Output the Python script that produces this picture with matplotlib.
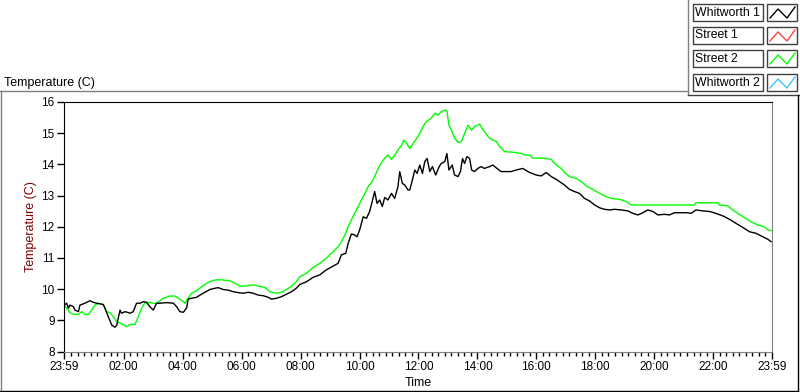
import numpy as np
import matplotlib
matplotlib.use("Agg")
import matplotlib.pyplot as plt
from matplotlib.lines import Line2D
from matplotlib.patches import Rectangle

plt.rcParams['font.family'] = ['Liberation Sans', 'DejaVu Sans']

# Whitworth 1 (black) - hours after 23:59, temperature (C)
hours_w1 = [0.00, 0.08, 0.14, 0.19, 0.31, 0.36, 0.48, 0.53, 0.70, 0.87, 0.98, 1.10, 1.32, 1.38,
            1.49, 1.61, 1.72, 1.78, 1.89, 1.94, 2.06, 2.23, 2.34, 2.45, 2.57, 2.68, 2.79, 2.90,
            3.02, 3.13, 3.24, 3.47, 3.70, 3.81, 3.92, 4.04, 4.15, 4.20, 4.32, 4.49, 4.60, 4.77,
            4.94, 5.11, 5.22, 5.39, 5.56, 5.73, 5.90, 6.06, 6.24, 6.41, 6.58, 6.75, 6.92, 7.03,
            7.20, 7.37, 7.54, 7.71, 7.87, 7.99, 8.22, 8.44, 8.67, 8.89, 9.12, 9.29, 9.40, 9.55,
            9.63, 9.74, 9.85, 9.93, 10.02, 10.14, 10.25, 10.36, 10.47, 10.53, 10.61, 10.70, 10.79,
            10.87, 10.98, 11.10, 11.21, 11.32, 11.38, 11.47, 11.55, 11.66, 11.72, 11.81, 11.89,
            11.97, 12.06, 12.15, 12.23, 12.31, 12.40, 12.49, 12.60, 12.72, 12.79, 12.91, 12.98,
            13.05, 13.16, 13.24, 13.36, 13.44, 13.51, 13.58, 13.66, 13.75, 13.82, 13.92, 14.03,
            14.14, 14.25, 14.43, 14.54, 14.68, 14.82, 14.99, 15.16, 15.33, 15.56, 15.73, 15.79,
            16.01, 16.18, 16.35, 16.52, 16.69, 16.80, 16.97, 17.14, 17.31, 17.48, 17.65, 17.82,
            17.99, 18.16, 18.33, 18.50, 18.67, 18.90, 19.12, 19.29, 19.46, 19.63, 19.80, 19.97,
            20.14, 20.36, 20.53, 20.70, 20.93, 21.15, 21.27, 21.43, 21.66, 21.89, 22.11, 22.34,
            22.57, 22.79, 23.02, 23.25, 23.47, 23.70, 23.87, 23.98]
temp_w1 = [9.49, 9.55, 9.39, 9.49, 9.44, 9.33, 9.28, 9.49, 9.55, 9.63, 9.58, 9.55, 9.51, 9.39,
           9.12, 8.85, 8.78, 8.85, 9.33, 9.23, 9.28, 9.23, 9.28, 9.55, 9.55, 9.60, 9.58, 9.44,
           9.33, 9.55, 9.55, 9.57, 9.55, 9.44, 9.28, 9.26, 9.40, 9.68, 9.71, 9.74, 9.81, 9.90,
           9.99, 10.03, 10.05, 9.99, 9.97, 9.92, 9.89, 9.87, 9.90, 9.87, 9.81, 9.79, 9.74, 9.68,
           9.71, 9.76, 9.84, 9.92, 10.03, 10.15, 10.24, 10.38, 10.46, 10.62, 10.74, 10.83, 11.10, 11.15,
           11.47, 11.77, 11.74, 11.68, 11.90, 12.32, 12.27, 12.49, 12.91, 13.13, 12.75, 12.86, 12.65,
           12.94, 12.86, 13.07, 12.91, 13.29, 13.77, 13.39, 13.34, 13.18, 13.18, 13.50, 13.82,
           13.71, 13.98, 13.71, 14.09, 14.19, 13.77, 13.93, 13.66, 13.93, 14.03, 14.09, 14.35,
           13.82, 13.98, 13.66, 13.61, 13.77, 14.19, 14.03, 14.25, 14.19, 13.82, 13.77, 13.87,
           13.93, 13.87, 13.93, 13.98, 13.87, 13.77, 13.77, 13.77, 13.82, 13.87, 13.77, 13.74,
           13.66, 13.63, 13.74, 13.61, 13.52, 13.45, 13.34, 13.20, 13.13, 13.07, 12.91, 12.83,
           12.70, 12.61, 12.56, 12.54, 12.56, 12.54, 12.51, 12.43, 12.38, 12.45, 12.54, 12.49,
           12.38, 12.40, 12.38, 12.45, 12.45, 12.45, 12.43, 12.54, 12.51, 12.49, 12.43, 12.35,
           12.24, 12.11, 11.98, 11.84, 11.79, 11.68, 11.60, 11.52]

# Street 2 (green)
hours_s2 = [0.00, 0.08, 0.19, 0.31, 0.48, 0.59, 0.70, 0.81, 0.93, 1.04, 1.15, 1.32, 1.43, 1.55,
            1.66, 1.78, 1.89, 2.06, 2.11, 2.23, 2.40, 2.51, 2.62, 2.74, 2.90, 3.02, 3.13, 3.24,
            3.36, 3.58, 3.75, 3.87, 4.04, 4.09, 4.20, 4.32, 4.49, 4.66, 4.83, 5.00, 5.16, 5.33,
            5.62, 5.79, 5.96, 6.13, 6.41, 6.58, 6.80, 6.97, 7.20, 7.37, 7.54, 7.71, 7.87, 7.99,
            8.22, 8.44, 8.67, 8.89, 9.12, 9.29, 9.40, 9.52, 9.63, 9.74, 9.85, 9.97, 10.08, 10.20,
            10.31, 10.42, 10.53, 10.65, 10.76, 10.87, 10.98, 11.10, 11.21, 11.32, 11.44, 11.52,
            11.61, 11.72, 11.83, 12.00, 12.17, 12.28, 12.45, 12.57, 12.68, 12.79, 12.91, 12.98,
            13.05, 13.13, 13.25, 13.36, 13.47, 13.58, 13.70, 13.81, 13.92, 14.09, 14.21, 14.38,
            14.49, 14.66, 14.77, 14.94, 15.23, 15.51, 15.62, 15.79, 15.90, 16.30, 16.52, 16.58,
            16.69, 16.86, 16.97, 17.14, 17.37, 17.54, 17.71, 17.93, 18.16, 18.33, 18.55, 18.84,
            19.06, 19.23, 19.51, 21.38, 21.43, 22.17, 22.22, 22.51, 22.68, 22.85, 23.07, 23.30,
            23.53, 23.75, 23.87, 23.98]
temp_s2 = [9.49, 9.39, 9.25, 9.19, 9.19, 9.28, 9.19, 9.19, 9.33, 9.49, 9.55, 9.51, 9.28, 9.25,
           9.12, 8.96, 8.91, 8.83, 8.80, 8.87, 8.87, 9.12, 9.39, 9.57, 9.57, 9.55, 9.55, 9.63,
           9.71, 9.78, 9.78, 9.71, 9.60, 9.55, 9.71, 9.87, 9.95, 10.08, 10.19, 10.27, 10.30, 10.30,
           10.27, 10.19, 10.10, 10.10, 10.14, 10.10, 10.06, 9.92, 9.87, 9.90, 9.99, 10.10, 10.24, 10.40,
           10.51, 10.70, 10.83, 10.99, 11.20, 11.36, 11.52, 11.74, 12.00, 12.22, 12.43, 12.65, 12.86, 13.07,
           13.29, 13.41, 13.61, 13.87, 14.06, 14.20, 14.30, 14.16, 14.30, 14.46, 14.62, 14.78,
           14.68, 14.51, 14.67, 14.89, 15.21, 15.37, 15.48, 15.64, 15.58, 15.69, 15.74, 15.72,
           15.26, 15.10, 14.84, 14.70, 14.73, 14.99, 15.26, 15.10, 15.21, 15.29, 15.10, 14.89,
           14.80, 14.73, 14.57, 14.41, 14.39, 14.35, 14.30, 14.30, 14.20, 14.20, 14.16, 14.09,
           13.98, 13.87, 13.74, 13.61, 13.55, 13.45, 13.31, 13.20, 13.07, 12.99, 12.91, 12.88,
           12.81, 12.70, 12.70, 12.70, 12.77, 12.77, 12.70, 12.67, 12.54, 12.43, 12.30, 12.16,
           12.06, 12.00, 11.90, 11.88]

series_names = ["Whitworth 1", "Street 1", "Street 2", "Whitworth 2"]
series_colors = ["#000000", "#ff4040", "#00ff00", "#40c0ff"]

tick_labels = ["23:59", "02:00", "04:00", "06:00", "08:00", "10:00", "12:00",
               "14:00", "16:00", "18:00", "20:00", "22:00", "23:59"]
tick_hours = [0] + [2 * i + 1 / 60 for i in range(1, 12)] + [24]

fig = plt.figure(figsize=(8, 3.92), dpi=100)
ax = fig.add_axes([0.0804, 0.1031, 0.8842, 0.6367])

ax.plot(hours_s2, temp_s2, color=series_colors[2], lw=1.0)
ax.plot(hours_w1, temp_w1, color=series_colors[0], lw=1.0)

ax.set_xlim(0, 24)
ax.set_ylim(8, 16)
ax.set_yticks(range(8, 17))
ax.set_xticks(tick_hours)
ax.set_xticklabels(tick_labels)
minor = []
for a, b in zip(tick_hours[:-1], tick_hours[1:]):
    minor.extend(np.linspace(a, b, 10)[1:-1])
ax.set_xticks(minor, minor=True)
ax.tick_params(axis='both', which='major', length=5, width=1, labelsize=8.5, pad=2, color='black')
ax.tick_params(axis='x', which='minor', length=3, width=1, color='black')
ax.spines['left'].set_color('black')
ax.spines['top'].set_color('black')
ax.spines['right'].set_color('#808080')
ax.spines['bottom'].set_color('#808080')
ax.set_xlabel("Time", fontsize=9, labelpad=3)
ax.set_ylabel("Temperature (C)", fontsize=9, color='#800000', labelpad=3)

# outer frame and title
fig.add_artist(Line2D([0, 688 / 800], [1 - 91 / 392] * 2, color='#808080', lw=1))
fig.add_artist(Line2D([0.5 / 800] * 2, [0, 1 - 91 / 392], color='#808080', lw=1))
fig.add_artist(Line2D([688 / 800] * 2, [1 - 95 / 392, 1], color='#808080', lw=1))
fig.add_artist(Line2D([688 / 800, 1], [1 - 95 / 392] * 2, color='#404040', lw=1))
fig.add_artist(Line2D([797.5 / 800] * 2, [1.5 / 392, 1 - 95 / 392], color='black', lw=1))
fig.add_artist(Line2D([0, 797.5 / 800], [1.5 / 392] * 2, color='black', lw=1))
fig.text(4 / 800, 1 - 83 / 392, "Temperature (C)", fontsize=9, va='center', ha='left')

# legend boxes
row_tops = [4, 27, 50, 74]
for name, col, top in zip(series_names, series_colors, row_tops):
    h = 17
    fig.add_artist(Rectangle((693 / 800, 1 - (top + h) / 392), 70 / 800, h / 392,
                             fill=False, ec='#404040', lw=1))
    fig.text(695 / 800, 1 - (top + h / 2) / 392, name, fontsize=8.8, va='center', ha='left')
    fig.add_artist(Rectangle((767 / 800, 1 - (top + h) / 392), 30 / 800, h / 392,
                             fill=False, ec='#404040', lw=1))
    zx = [770, 778, 787, 795]
    zy = [top + 14, top + 5, top + 14, top + 3]
    fig.add_artist(Line2D([v / 800 for v in zx], [1 - v / 392 for v in zy], color=col, lw=1))

fig.savefig("out.png", dpi=100)
